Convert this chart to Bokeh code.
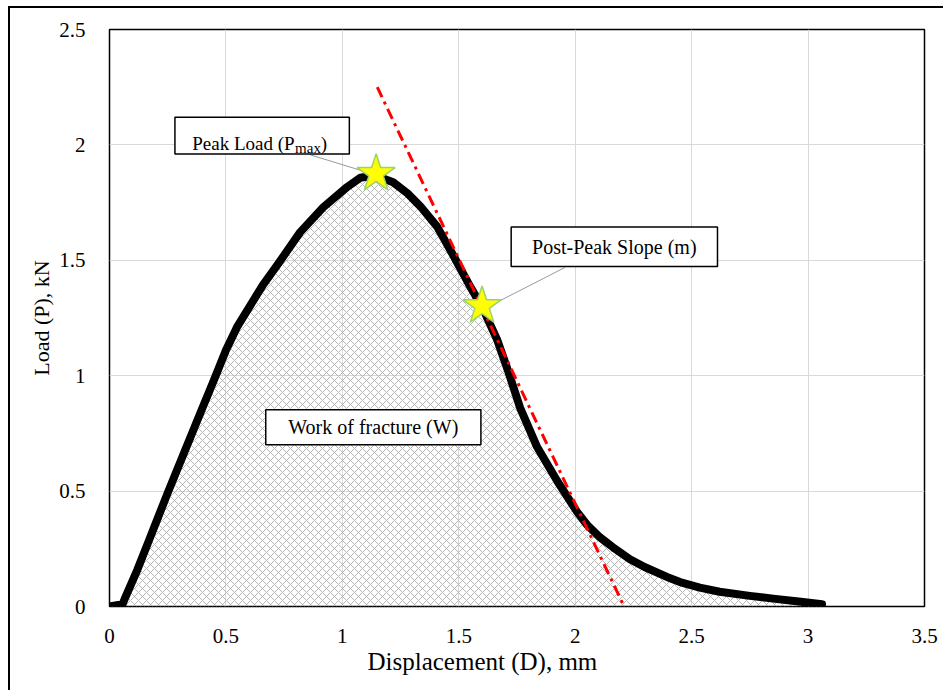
from bokeh.plotting import figure
from bokeh.models import Range1d, FixedTicker, NumeralTickFormatter, Title
from bokeh.core.properties import value
from bokeh.embed import file_html
from bokeh.resources import INLINE

# Load-displacement record of the fracture test
displacement = [0.0, 0.056, 0.069, 0.12, 0.167, 0.21, 0.253, 0.326, 0.399, 0.446,
                0.50, 0.55, 0.605, 0.66, 0.721, 0.819, 0.918, 1.021, 1.077, 1.141,
                1.218, 1.28, 1.334, 1.407, 1.476, 1.549, 1.600, 1.665, 1.712, 1.763,
                1.836, 1.922, 2.008, 2.05, 2.106, 2.16, 2.235, 2.30, 2.394, 2.45,
                2.535, 2.62, 2.75, 2.85, 2.96, 3.06]
load = [0.0, 0.01, 0.042, 0.16, 0.28, 0.39, 0.50, 0.68, 0.86, 0.975,
        1.11, 1.215, 1.305, 1.395, 1.48, 1.622, 1.730, 1.818, 1.858, 1.868,
        1.838, 1.79, 1.735, 1.646, 1.522, 1.386, 1.299, 1.155, 1.020, 0.862,
        0.692, 0.545, 0.410, 0.355, 0.300, 0.258, 0.205, 0.170, 0.128, 0.106,
        0.082, 0.064, 0.046, 0.034, 0.022, 0.01]

# Marked points: peak load and the point used for the post-peak slope
star_x = [1.145, 1.600]
star_y = [1.875, 1.302]

# Post-peak slope line
slope_x = [1.15, 2.21]
slope_y = [2.25, 0.0]

x_ticks = [0, 0.5, 1, 1.5, 2, 2.5, 3, 3.5]
y_ticks = [0, 0.5, 1, 1.5, 2, 2.5]

x_title = "Displacement (D), mm"
y_title = "Load (P), kN"

SERIF = "'Liberation Serif', 'Times New Roman', 'DejaVu Serif', serif"
FONT = value(SERIF)

p = figure(width=935, height=684, output_backend="svg", toolbar_location=None,
           x_range=Range1d(0, 3.5), y_range=Range1d(0, 2.5),
           min_border_left=99, min_border_right=21, min_border_top=21, min_border_bottom=86,
           margin=(6, 0, 0, 8),
           styles={"border-left": "2px solid #000000", "border-top": "2px solid #000000"})

p.outline_line_color = "#000000"
p.outline_line_width = 1.5
p.background_fill_color = "white"
p.border_fill_color = "white"

for g in (p.xgrid, p.ygrid):
    g.grid_line_color = "#D9D9D9"
    g.grid_line_width = 1
p.xgrid.ticker = FixedTicker(ticks=x_ticks)
p.ygrid.ticker = FixedTicker(ticks=y_ticks)

for ax in (p.xaxis, p.yaxis):
    ax.axis_line_color = None
    ax.major_tick_line_color = None
    ax.minor_tick_line_color = None
    ax.major_label_text_font = SERIF
    ax.major_label_text_font_size = "21px"
    ax.major_label_text_color = "#000000"
    ax.formatter = NumeralTickFormatter(format="0.[0]")

p.xaxis.ticker = FixedTicker(ticks=x_ticks)
p.yaxis.ticker = FixedTicker(ticks=y_ticks)
p.xaxis.major_label_standoff = 16
p.yaxis.major_label_standoff = 18

p.yaxis.axis_label = y_title
p.yaxis.axis_label_text_font = SERIF
p.yaxis.axis_label_text_font_size = "22px"
p.yaxis.axis_label_text_font_style = "normal"
p.yaxis.axis_label_text_color = "#000000"
p.yaxis.axis_label_standoff = 2

# x title sits a little left of the frame centre
p.add_layout(Title(text=x_title, align="left", offset=258, text_font=SERIF,
                   text_font_size="25px", text_font_style="normal",
                   text_color="#000000", standoff=0), "below")

# Work of fracture: hatched area under the curve
p.varea(x=displacement, y1=0, y2=load, fill_color=None, fill_alpha=0,
        hatch_pattern="diagonal_cross", hatch_color="#A6A6A6",
        hatch_scale=8, hatch_weight=0.8)

# Load-displacement curve
p.line(displacement, load, line_color="#000000", line_width=8,
       line_cap="round", line_join="round")

# Post-peak slope
p.line(slope_x, slope_y, line_color="#FF0000", line_width=3,
       line_dash="11 5 3 5")

# Callout leaders
p.segment(x0=[0.862, 1.956], y0=[1.957, 1.469], x1=[1.098, 1.642], y1=[1.884, 1.307],
          line_color="#7F7F7F", line_width=0.8)

p.scatter(star_x, star_y, marker="star", size=40, fill_color="#FFFF00",
          line_color="#9BD36A", line_width=1.5)

# Callout boxes
p.quad(left=[0.281, 1.725, 0.671], right=[1.030, 2.611, 1.595],
       top=[2.120, 1.644, 0.852], bottom=[1.961, 1.473, 0.701],
       fill_color="white", line_color="#000000", line_width=1.5)

p.text(x=[0.795], y=[2.005], text=["Peak Load (P"], text_font=FONT,
       text_font_size="19px", text_align="right", text_baseline="alphabetic",
       text_color="#000000")
p.text(x=[0.797], y=[1.985], text=["max"], text_font=FONT,
       text_font_size="15px", text_align="left", text_baseline="alphabetic",
       text_color="#000000")
p.text(x=[0.907], y=[2.005], text=[")"], text_font=FONT,
       text_font_size="19px", text_align="left", text_baseline="alphabetic",
       text_color="#000000")
p.text(x=[2.168, 1.133], y=[1.558, 0.776],
       text=["Post-Peak Slope (m)", "Work of fracture (W)"], text_font=FONT,
       text_font_size="20px", text_align="center", text_baseline="middle",
       text_color="#000000")

open("out.html", "w").write(file_html(p, INLINE))
